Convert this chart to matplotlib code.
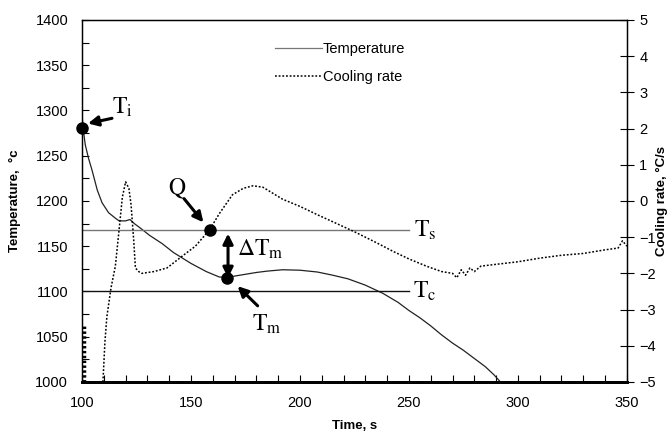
import matplotlib
matplotlib.use("Agg")
import matplotlib.pyplot as plt
from matplotlib.ticker import MultipleLocator

plt.rcParams['font.family'] = ['Liberation Sans', 'DejaVu Sans']
plt.rcParams['mathtext.fontset'] = 'stix'

# Temperature curve (left axis)
time_temp = [100, 100.5, 101.5, 103, 104.6, 107, 109.2, 112.2, 115.3, 117, 120, 122, 124, 126.8,
             131, 136.7, 142, 150, 157, 163, 167, 170, 175, 180, 185, 192, 200, 208,
             215, 222, 230, 238, 245, 250, 255, 260, 265, 270, 275, 280, 285, 289, 292]
temperature = [1297, 1280, 1262, 1247, 1234, 1212, 1198, 1187, 1181, 1178, 1178, 1179.5, 1175, 1170,
               1162, 1153, 1143, 1131, 1122, 1116, 1115.5, 1117, 1119, 1121, 1122.5, 1124, 1123.5,
               1121.5, 1118, 1114, 1107, 1098, 1088, 1079, 1071, 1062, 1052, 1043, 1035, 1026,
               1017, 1008, 1000]

# Cooling rate curve (right axis)
time_rate = [109.6, 110.5, 111.4, 113.3, 115.3, 117, 118.5, 120, 121.5, 122.5, 123.7, 124.5, 126,
             127.4, 133, 139, 146.5, 152, 155.6, 159, 163, 169, 174, 178.5, 183, 192, 200, 208,
             216, 225, 235, 243, 250, 258, 265, 270, 272, 274, 276, 278, 280, 283, 290, 300, 310,
             320, 330, 340, 346, 348, 350]
cooling_rate = [-5.0, -3.9, -3.2, -2.4, -1.8, -0.8, 0.1, 0.53, 0.35, -0.1, -1.07, -1.85, -1.95,
                -2.0, -1.95, -1.85, -1.5, -1.25, -1.0, -0.75, -0.35, 0.17, 0.35, 0.42, 0.38, 0.05,
                -0.15, -0.38, -0.6, -0.85, -1.15, -1.4, -1.6, -1.8, -1.95, -2.0, -2.12, -1.9,
                -2.05, -1.85, -1.95, -1.8, -1.75, -1.68, -1.58, -1.5, -1.45, -1.35, -1.3, -1.1,
                -1.25]

# Early cooling-rate segment at the left edge
time_rate_start = [101, 101]
cooling_rate_start = [-5.0, -3.4]

# Reference lines
Ts_value = 1168
Tc_value = 1101
ref_x = [100, 250]

fig = plt.figure(figsize=(6.69, 4.36), dpi=100)
ax = fig.add_axes([0.1226, 0.1239, 0.8144, 0.8303])
ax2 = ax.twinx()

ln_t, = ax.plot(time_temp, temperature, color='#222222', lw=0.9, label='Temperature')
ax.plot(ref_x, [Ts_value, Ts_value], color='#777777', lw=1.0)
ax.plot(ref_x, [Tc_value, Tc_value], color='#111111', lw=1.0)

ln_r, = ax2.plot(time_rate, cooling_rate, color='black', lw=1.1, ls=(0, (1.2, 1.2)), label='Cooling rate')
ax2.plot(time_rate_start, cooling_rate_start, color='black', lw=2.5, ls=(0, (0.7, 0.7)))

ax.set_xlim(100, 350)
ax.set_ylim(1000, 1400)
ax2.set_ylim(-5, 5)

ax.xaxis.set_major_locator(MultipleLocator(50))
ax.xaxis.set_minor_locator(MultipleLocator(10))
ax.yaxis.set_major_locator(MultipleLocator(50))
ax.yaxis.set_minor_locator(MultipleLocator(25))
ax2.yaxis.set_major_locator(MultipleLocator(1))

ax.tick_params(axis='x', which='both', direction='in', length=5, width=0.8, pad=10, labelsize=10.5)
ax.tick_params(axis='y', which='both', direction='in', length=5, width=0.8, pad=10, labelsize=10.5)
ax2.tick_params(axis='y', which='both', direction='inout', length=10, width=0.8, pad=4, labelsize=10.5)

for a in (ax, ax2):
    for s in a.spines.values():
        s.set_linewidth(0.9)
ax.spines['bottom'].set_linewidth(2.0)
ax2.spines['bottom'].set_linewidth(2.0)

ax.set_xlabel('Time, s', fontsize=9.5, fontweight='bold', labelpad=7)
ax.set_ylabel('Temperature,  \u00b0c', fontsize=9.5, fontweight='bold', labelpad=10)
ax2.set_ylabel('Cooling rate, \u00b0C/s', fontsize=9.5, fontweight='bold', labelpad=0)

leg = ax.legend(handles=[ln_t, ln_r], loc='upper left', bbox_to_anchor=(0.33, 0.975), frameon=False,
                fontsize=10.5, handlelength=3.2, handletextpad=0.1, labelspacing=0.95)
leg.get_lines()[0].set_color('#777777')

# Annotations
serif = dict(fontsize=17)
arrow = dict(arrowstyle='-|>,head_length=0.6,head_width=0.3', color='black', lw=2.2)
ax.plot([100], [1281], 'o', color='black', ms=8, clip_on=False, zorder=5)
ax.annotate('', xy=(101.5, 1285), xytext=(115, 1292), arrowprops=arrow)
ax.text(118.5, 1303, r'$\mathrm{T_i}$', ha='center', va='center', **serif)

ax.plot([158.7], [1168], 'o', color='black', ms=8, zorder=5)
ax.annotate('', xy=(156.5, 1174), xytext=(146, 1205), arrowprops=arrow)
ax.text(143.6, 1213, r'$\mathrm{Q}$', ha='center', va='center', **serif)

ax.plot([166.5], [1115], 'o', color='black', ms=8, zorder=5)
ax.annotate('', xy=(167, 1167), xytext=(167, 1112),
            arrowprops=dict(arrowstyle='<|-|>,head_length=0.6,head_width=0.3', color='black', lw=2.2))
ax.text(171, 1146, r'$\mathrm{\Delta T_m}$', ha='left', va='center', **serif)

ax.annotate('', xy=(170.5, 1108), xytext=(181.5, 1082), arrowprops=arrow)
ax.text(185, 1064, r'$\mathrm{T_m}$', ha='center', va='center', **serif)

ax.text(252.5, 1168, r'$\mathrm{T_s}$', ha='left', va='center', **serif)
ax.text(252, 1100, r'$\mathrm{T_c}$', ha='left', va='center', **serif)

fig.savefig('out.png', dpi=100)
